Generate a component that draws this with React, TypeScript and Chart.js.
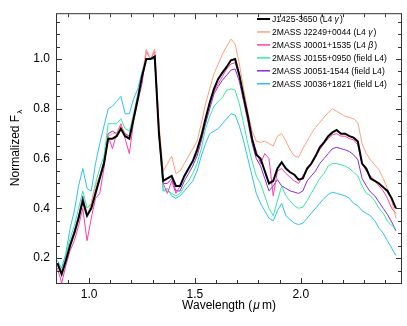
import React, { useEffect, useRef } from 'react';
import { Chart, registerables } from 'chart.js';

Chart.register(...registerables);

// Wavelength grid (micron)
const WAVELENGTH = [
  0.85, 0.87, 0.89, 0.91, 0.93, 0.95, 0.97, 0.99, 1.01, 1.03,
  1.05, 1.07, 1.09, 1.11, 1.13, 1.15, 1.17, 1.19, 1.21, 1.23,
  1.25, 1.27, 1.29, 1.31, 1.33, 1.35, 1.37, 1.39, 1.41, 1.43,
  1.45, 1.47, 1.49, 1.51, 1.53, 1.55, 1.57, 1.59, 1.61, 1.63,
  1.65, 1.67, 1.69, 1.71, 1.73, 1.75, 1.77, 1.79, 1.81, 1.83,
  1.85, 1.87, 1.89, 1.91, 1.93, 1.95, 1.97, 1.99, 2.01, 2.03,
  2.05, 2.07, 2.09, 2.11, 2.13, 2.15, 2.17, 2.19, 2.21, 2.23,
  2.25, 2.27, 2.29, 2.31, 2.33, 2.35, 2.37, 2.39, 2.41, 2.43,
  2.45,
];

const J1425 = [
  0.18, 0.135, 0.19, 0.25, 0.30, 0.36, 0.43, 0.37, 0.40, 0.46,
  0.52, 0.58, 0.68, 0.68, 0.69, 0.72, 0.69, 0.68, 0.76, 0.84,
  0.93, 1.00, 1.00, 1.01, 0.70, 0.51, 0.52, 0.53, 0.49, 0.49,
  0.53, 0.56, 0.59, 0.635, 0.69, 0.76, 0.825, 0.88, 0.92, 0.945,
  0.968, 0.995, 1.0, 0.935, 0.85, 0.77, 0.68, 0.615, 0.60, 0.55,
  0.50, 0.51, 0.56, 0.585, 0.56, 0.545, 0.535, 0.515, 0.52, 0.56,
  0.58, 0.61, 0.645, 0.665, 0.69, 0.705, 0.715, 0.70, 0.70, 0.69,
  0.684, 0.668, 0.58, 0.56, 0.52, 0.51, 0.50, 0.485, 0.47, 0.44,
  0.40,
];

const J2249 = [
  0.18, 0.14, 0.20, 0.26, 0.30, 0.36, 0.44, 0.37, 0.42, 0.49,
  0.53, 0.58, 0.69, 0.70, 0.70, 0.73, 0.70, 0.68, 0.77, 0.85,
  0.93, 1.04, 1.00, 1.04, 0.74, 0.55, 0.58, 0.61, 0.54, 0.55,
  0.58, 0.61, 0.64, 0.67, 0.74, 0.82, 0.88, 0.94, 0.98, 1.02,
  1.05, 1.08, 1.06, 0.98, 0.88, 0.79, 0.71, 0.67, 0.665, 0.67,
  0.66, 0.65, 0.69, 0.70, 0.67, 0.635, 0.61, 0.605, 0.64, 0.67,
  0.70, 0.725, 0.745, 0.765, 0.785, 0.80, 0.79, 0.78, 0.77, 0.765,
  0.76, 0.745, 0.66, 0.62, 0.595, 0.575, 0.555, 0.52, 0.48, 0.43,
  0.36,
];

const J0001 = [
  0.16, 0.10, 0.17, 0.23, 0.27, 0.33, 0.40, 0.27, 0.36, 0.44,
  0.46, 0.56, 0.69, 0.64, 0.70, 0.74, 0.68, 0.62, 0.75, 0.83,
  0.90, 1.03, 1.00, 1.03, 0.72, 0.50, 0.46, 0.51, 0.46, 0.49,
  0.53, 0.56, 0.59, 0.62, 0.68, 0.75, 0.82, 0.87, 0.90, 0.93,
  0.96, 0.98, 0.985, 0.93, 0.85, 0.77, 0.68, 0.63, 0.58, 0.62,
  0.60, 0.45, 0.55, 0.56, 0.54, 0.525, 0.51, 0.50, 0.53, 0.555,
  0.575, 0.605, 0.635, 0.66, 0.68, 0.695, 0.70, 0.69, 0.69, 0.68,
  0.675, 0.655, 0.58, 0.55, 0.53, 0.51, 0.49, 0.47, 0.44, 0.40,
  0.38,
];

const J0155 = [
  0.18, 0.15, 0.21, 0.28, 0.33, 0.40, 0.47, 0.40, 0.42, 0.50,
  0.56, 0.61, 0.74, 0.74, 0.74, 0.76, 0.72, 0.71, 0.78, 0.86,
  0.94, 1.00, 1.00, 1.00, 0.70, 0.47, 0.47, 0.46, 0.45, 0.46,
  0.49, 0.51, 0.54, 0.58, 0.64, 0.72, 0.77, 0.81, 0.83, 0.845,
  0.875, 0.88, 0.875, 0.82, 0.74, 0.66, 0.59, 0.53, 0.50, 0.45,
  0.40, 0.37, 0.43, 0.49, 0.45, 0.43, 0.41, 0.40, 0.405, 0.43,
  0.46, 0.49, 0.52, 0.54, 0.57, 0.58, 0.58, 0.575, 0.57, 0.56,
  0.545, 0.53, 0.49, 0.46, 0.45, 0.43, 0.40, 0.38, 0.35, 0.33,
  0.32,
];

const J0051 = [
  0.17, 0.14, 0.20, 0.26, 0.31, 0.37, 0.45, 0.37, 0.40, 0.47,
  0.53, 0.59, 0.70, 0.71, 0.70, 0.73, 0.70, 0.69, 0.77, 0.85,
  0.94, 1.00, 1.00, 1.00, 0.70, 0.50, 0.50, 0.52, 0.47, 0.47,
  0.51, 0.54, 0.57, 0.61, 0.67, 0.74, 0.80, 0.86, 0.89, 0.915,
  0.935, 0.955, 0.96, 0.91, 0.83, 0.75, 0.66, 0.60, 0.57, 0.52,
  0.47, 0.49, 0.515, 0.49, 0.48, 0.47, 0.465, 0.46, 0.47, 0.51,
  0.53, 0.55, 0.58, 0.60, 0.62, 0.64, 0.645, 0.64, 0.635, 0.628,
  0.615, 0.595, 0.52, 0.49, 0.465, 0.45, 0.425, 0.40, 0.375, 0.345,
  0.31,
];

const J0036 = [
  0.19, 0.16, 0.22, 0.32, 0.39, 0.49, 0.56, 0.48, 0.47, 0.58,
  0.66, 0.73, 0.80, 0.81, 0.83, 0.85, 0.78, 0.78, 0.84, 0.88,
  0.95, 1.00, 1.00, 1.01, 0.70, 0.47, 0.48, 0.45, 0.44, 0.45,
  0.47, 0.49, 0.51, 0.55, 0.61, 0.66, 0.70, 0.71, 0.72, 0.74,
  0.76, 0.78, 0.775, 0.73, 0.67, 0.60, 0.53, 0.46, 0.42, 0.39,
  0.36, 0.35, 0.39, 0.42, 0.37, 0.355, 0.34, 0.335, 0.34, 0.36,
  0.38, 0.40, 0.42, 0.44, 0.455, 0.465, 0.46, 0.455, 0.45, 0.44,
  0.42, 0.41, 0.39, 0.38, 0.37, 0.35, 0.32, 0.30, 0.27, 0.24,
  0.21,
];

const SERIES_NAMES = [
  'J1425-3650 (L4 γ)',
  '2MASS J2249+0044 (L4 γ)',
  '2MASS J0001+1535 (L4 β)',
  '2MASS J0155+0950 (field L4)',
  '2MASS J0051-1544 (field L4)',
  '2MASS J0036+1821 (field L4)',
];
const SERIES_VALUES = [J1425, J2249, J0001, J0155, J0051, J0036];
const SERIES_COLORS = ['#000000', '#FFA07A', '#FF3FA4', '#33EC9C', '#8A2BE2', '#2EC0F2'];
const SERIES_WIDTHS = [2, 1, 1, 1, 1, 1];

const X_TICKS = [1.0, 1.5, 2.0];
const Y_TICKS = [0.2, 0.4, 0.6, 0.8, 1.0];
const X_TITLE = 'Wavelength (';
const Y_TITLE = 'Normalized F';

const X_MIN = 0.848;
const X_MAX = 2.474;
const Y_MIN = 0.1;
const Y_MAX = 1.18;

const FONT = "'Liberation Sans', Arial, Helvetica, sans-serif";

function drawMixed(ctx: CanvasRenderingContext2D, text: string, x: number, y: number, size: number) {
  // draw text with greek letters in italic
  let cx = x;
  for (const ch of text) {
    const greek = /[α-ωΑ-Ω]/.test(ch);
    ctx.font = `${greek ? 'italic ' : ''}${size}px ${FONT}`;
    ctx.fillText(ch, cx, y);
    cx += ctx.measureText(ch).width + (greek ? 1 : 0);
  }
}

const decorPlugin = {
  id: 'decor',
  afterDatasetsDraw(chart: any) {
    const ctx: CanvasRenderingContext2D = chart.ctx;
    const { left, right, top, bottom } = chart.chartArea;
    const xs = chart.scales.x;
    const ys = chart.scales.y;
    ctx.save();
    // frame
    ctx.strokeStyle = '#333333';
    ctx.lineWidth = 1;
    ctx.strokeRect(left - 0.5, top - 0.5, right - left + 1, bottom - top + 1);
    // ticks
    const majorLen = 5;
    const minorLen = 3;
    ctx.beginPath();
    for (let k = 9; k <= 24; k++) {
      const v = k / 10;
      const px = Math.round(xs.getPixelForValue(v)) + 0.5;
      const len = k % 5 === 0 ? majorLen : minorLen;
      ctx.moveTo(px, bottom);
      ctx.lineTo(px, bottom - len);
      ctx.moveTo(px, top);
      ctx.lineTo(px, top + len);
    }
    for (let k = 2; k <= 23; k++) {
      const v = k / 20;
      const py = Math.round(ys.getPixelForValue(v)) + 0.5;
      const len = k % 4 === 0 ? majorLen : minorLen;
      ctx.moveTo(left, py);
      ctx.lineTo(left + len, py);
      ctx.moveTo(right, py);
      ctx.lineTo(right - len, py);
    }
    ctx.stroke();

    // legend
    ctx.fillStyle = '#000000';
    ctx.textBaseline = 'middle';
    ctx.textAlign = 'left';
    const lx0 = 257;
    const lx1 = 270;
    const ly0 = 19;
    const step = 12.95;
    chart.data.datasets.forEach((ds: any, i: number) => {
      const y = ly0 + i * step;
      ctx.strokeStyle = ds.borderColor;
      ctx.lineWidth = i === 0 ? 2 : 1.5;
      ctx.beginPath();
      ctx.moveTo(lx0, y);
      ctx.lineTo(lx1, y);
      ctx.stroke();
      drawMixed(ctx, ds.label, lx1 + 2, y + 0.5, 8.6);
    });

    // x title
    ctx.textBaseline = 'alphabetic';
    ctx.font = `12px ${FONT}`;
    const w1 = ctx.measureText(X_TITLE).width;
    ctx.font = `italic 12px ${FONT}`;
    const w2 = ctx.measureText('μ').width;
    ctx.font = `12px ${FONT}`;
    const w3 = ctx.measureText('m)').width;
    const total = w1 + w2 + w3 + 3;
    let cx = (left + right) / 2 - total / 2;
    ctx.fillText(X_TITLE, cx, 309);
    cx += w1 + 1;
    ctx.font = `italic 12px ${FONT}`;
    ctx.fillText('μ', cx, 309);
    cx += w2 + 2;
    ctx.font = `12px ${FONT}`;
    ctx.fillText('m)', cx, 309);

    // y title
    ctx.save();
    ctx.translate(14, 148);
    ctx.rotate(-Math.PI / 2);
    ctx.font = `12px ${FONT}`;
    const yw = ctx.measureText(Y_TITLE).width;
    ctx.font = `8px ${FONT}`;
    const lw = ctx.measureText('λ').width;
    const ytot = yw + lw + 1;
    ctx.font = `12px ${FONT}`;
    ctx.fillText(Y_TITLE, -ytot / 2, 4.5);
    ctx.font = `8px ${FONT}`;
    ctx.fillText('λ', -ytot / 2 + yw + 1, 7.5);
    ctx.restore();

    ctx.restore();
  },
};

export default function App() {
  const canvasRef = useRef<HTMLCanvasElement | null>(null);

  useEffect(() => {
    const canvas = canvasRef.current;
    if (!canvas) return;
    const datasets = SERIES_NAMES.map((name, s) => ({
      label: name,
      data: WAVELENGTH.map((x, i) => ({ x, y: SERIES_VALUES[s][i] })),
      borderColor: SERIES_COLORS[s],
      backgroundColor: SERIES_COLORS[s],
      borderWidth: SERIES_WIDTHS[s],
      pointRadius: 0,
      tension: 0,
      fill: false,
    }));
    const chart = new Chart(canvas, {
      type: 'line',
      data: { datasets },
      options: {
        responsive: false,
        animation: false,
        events: [],
        layout: { padding: { top: 4, right: 6, left: 0, bottom: 0 } },
        plugins: {
          legend: { display: false },
          tooltip: { enabled: false },
        },
        scales: {
          x: {
            type: 'linear',
            min: X_MIN,
            max: X_MAX,
            grid: { display: false, drawTicks: false },
            border: { display: false },
            ticks: {
              padding: 4,
              color: '#000000',
              font: { family: FONT, size: 12 },
              callback: (v: any) => Number(v).toFixed(1),
            },
            afterBuildTicks: (scale: any) => {
              scale.ticks = X_TICKS.map((v) => ({ value: v }));
            },
            afterFit: (scale: any) => {
              scale.height = 43;
            },
          },
          y: {
            type: 'linear',
            min: Y_MIN,
            max: Y_MAX,
            grid: { display: false, drawTicks: false },
            border: { display: false },
            ticks: {
              padding: 7,
              color: '#000000',
              font: { family: FONT, size: 12 },
              callback: (v: any) => Number(v).toFixed(1),
            },
            afterBuildTicks: (scale: any) => {
              scale.ticks = Y_TICKS.map((v) => ({ value: v }));
            },
            afterFit: (scale: any) => {
              scale.width = 57;
            },
          },
        },
      },
      plugins: [decorPlugin],
    });
    return () => chart.destroy();
  }, []);

  return (
    <div style={{ position: 'fixed', left: 0, top: 0, width: 407, height: 326, background: '#ffffff' }}>
      <canvas ref={canvasRef} width={407} height={326} style={{ width: 407, height: 326, display: 'block' }} />
    </div>
  );
}
